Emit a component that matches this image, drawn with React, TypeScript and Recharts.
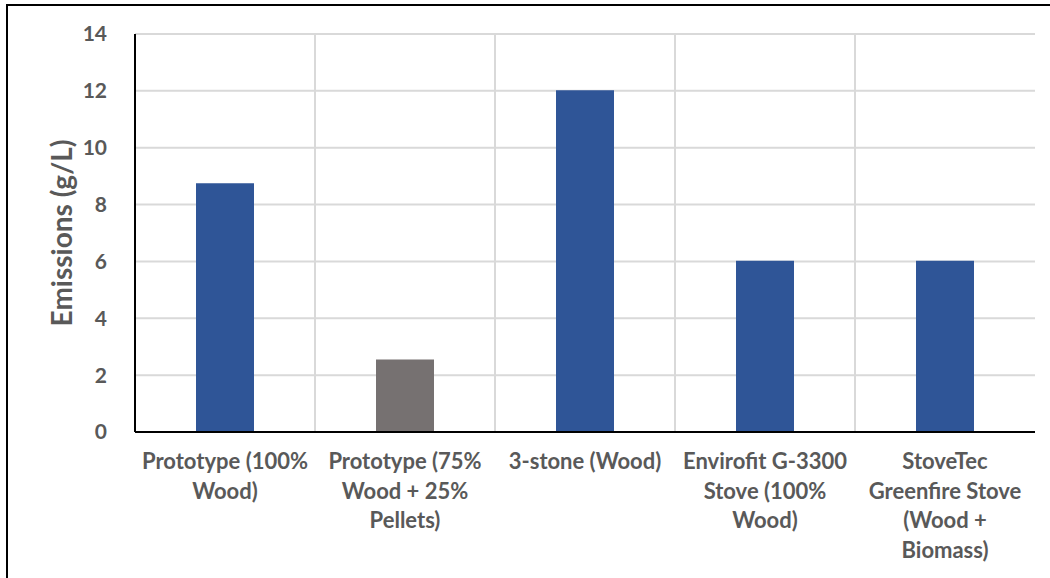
import { Bar, BarChart, CartesianGrid, Cell, Label, XAxis, YAxis } from "recharts";

const categories = [
  "Prototype (100%\nWood)",
  "Prototype (75%\nWood + 25%\nPellets)",
  "3-stone (Wood)",
  "Envirofit G-3300\nStove (100%\nWood)",
  "StoveTec\nGreenfire Stove\n(Wood +\nBiomass)",
];
const emissions = [8.75, 2.55, 12.02, 6.02, 6.02];
const barColors = ["#2F5597", "#767171", "#2F5597", "#2F5597", "#2F5597"];
const yTicks = [0, 2, 4, 6, 8, 10, 12, 14];

const data = categories.map((name, i) => ({ name, value: emissions[i] }));

const FONT = "Lato, 'Open Sans', sans-serif";
const TEXT = "#595959";

function CategoryTick({ x, y, payload }: { x?: number; y?: number; payload?: { value: string } }) {
  const lines = (payload?.value ?? "").split("\n");
  return (
    <text
      x={x}
      y={y}
      textAnchor="middle"
      fill={TEXT}
      fontFamily={FONT}
      fontWeight={700}
      fontSize={22}
    >
      {lines.map((line, i) => (
        <tspan key={i} x={x} dy={i === 0 ? 29 : 29.5}>
          {line}
        </tspan>
      ))}
    </text>
  );
}

export default function App() {
  return (
    <div
      style={{
        position: "absolute",
        left: 0,
        top: 0,
        width: 1050,
        height: 578,
        background: "#fff",
        overflow: "hidden",
      }}
    >
      <div
        style={{
          position: "absolute",
          left: 6,
          top: 4,
          width: 1044,
          height: 580,
          borderLeft: "2px solid #000",
          borderTop: "2px solid #000",
        }}
      />
      <BarChart
        width={1050}
        height={578}
        data={data}
        margin={{ top: 34, right: 15, left: 75, bottom: 0 }}
        style={{ position: "absolute", left: 0, top: 0 }}
      >
        <CartesianGrid
          stroke="#D9D9D9"
          strokeWidth={2}
          verticalCoordinatesGenerator={({ offset }: any) =>
            [1, 2, 3, 4].map((i) => offset.left + (offset.width * i) / categories.length)
          }
        />
        <XAxis
          dataKey="name"
          interval={0}
          height={146}
          axisLine={{ stroke: "#000", strokeWidth: 2 }}
          tickLine={false}
          tick={<CategoryTick />}
        />
        <XAxis
          xAxisId="top"
          dataKey="name"
          orientation="top"
          height={0}
          tick={false}
          tickLine={false}
          axisLine={{ stroke: "#000", strokeWidth: 2 }}
        />
        <YAxis
          domain={[0, 14]}
          ticks={yTicks}
          width={60}
          axisLine={{ stroke: "#000", strokeWidth: 2 }}
          tickLine={false}
          tickMargin={22}
          tick={{ fill: TEXT, fontFamily: FONT, fontWeight: 700, fontSize: 21 }}
        >
          <Label
            value="Emissions (g/L)"
            angle={-90}
            position="insideLeft"
            offset={-13}
            style={{
              fill: TEXT,
              fontFamily: FONT,
              fontWeight: 700,
              fontSize: 28,
              textAnchor: "middle",
            }}
          />
        </YAxis>
        <YAxis
          yAxisId="right"
          orientation="right"
          domain={[0, 14]}
          width={0}
          tick={false}
          tickLine={false}
          axisLine={{ stroke: "#000", strokeWidth: 2 }}
        />
        <Bar dataKey="value" barSize={58} isAnimationActive={false}>
          {data.map((d, i) => (
            <Cell key={d.name} fill={barColors[i]} />
          ))}
        </Bar>
      </BarChart>
    </div>
  );
}
